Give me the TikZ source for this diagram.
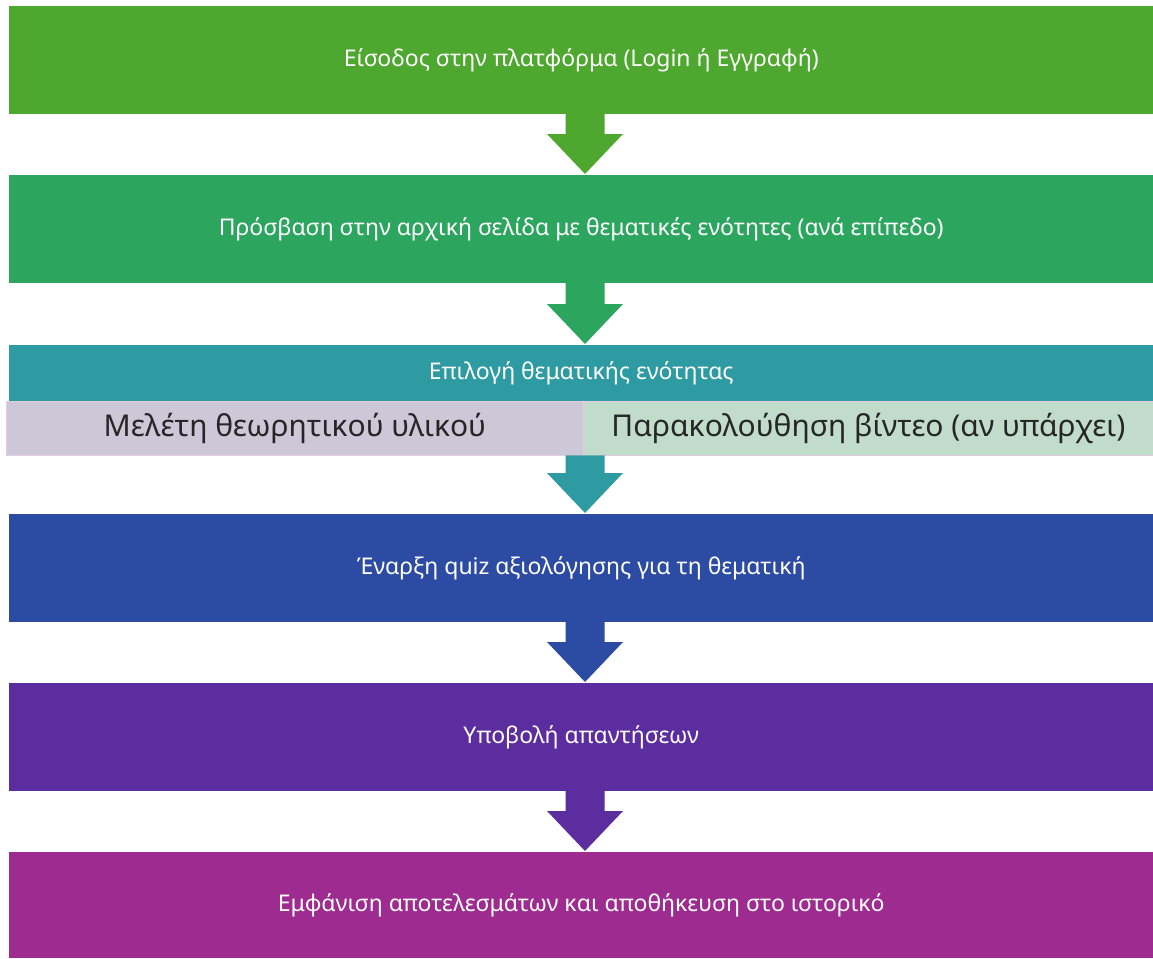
\documentclass[tikz,border=0pt]{standalone}
\usepackage{fontspec}
\setmainfont{Noto Sans}
\usetikzlibrary{calc}
\definecolor{cA}{HTML}{4EA72E}
\definecolor{cB}{HTML}{2CA55E}
\definecolor{cC}{HTML}{2E9AA2}
\definecolor{cL}{HTML}{CDC8D8}
\definecolor{cG}{HTML}{C1DCCB}
\definecolor{cP}{HTML}{E6CCE0}
\definecolor{cD}{HTML}{2C4CA3}
\definecolor{cE}{HTML}{5C2D9F}
\definecolor{cF}{HTML}{9E2B8F}
\tikzset{
  stepbox/.style={rectangle, inner sep=0pt, anchor=north west, minimum width=1144pt,
    minimum height=108pt, text=white, font=\fontsize{23}{27}\selectfont},
  subbox/.style={rectangle, inner sep=0pt, anchor=north west, minimum height=54pt,
    draw=cP, line width=0.8pt, text=black!85, font=\fontsize{30}{34}\selectfont},
}
% from node, to node, colour  (y axis points down)
\newcommand\blockarr[3]{%
  \fill[#3] ($(#1.south -| ax)+(-19.5,-0.5)$) -- ($(#2.north -| ax)+(-19.5,-41)$)
    -- ($(#2.north -| ax)+(-38,-41)$) -- ($(#2.north -| ax)+(0,-1)$)
    -- ($(#2.north -| ax)+(38,-41)$) -- ($(#2.north -| ax)+(19.5,-41)$)
    -- ($(#1.south -| ax)+(19.5,-0.5)$) -- cycle;}
\begin{document}
\begin{tikzpicture}[x=1pt,y=-1pt]
\useasboundingbox (0,0) rectangle (1153,958);
\coordinate (ax) at (585,0);
\node[stepbox, fill=cA] (b1) at (9,6) {Είσοδος στην πλατφόρμα (Login ή Εγγραφή)};
\node[stepbox, fill=cB] (b2) at (9,175) {Πρόσβαση στην αρχική σελίδα με θεματικές ενότητες (ανά επίπεδο)};
\node[stepbox, fill=cC, minimum height=56pt] (b3) at (9,345) {Επιλογή θεματικής ενότητας};
\node[subbox, fill=cL, minimum width=577pt] (s1) at (6,401) {Μελέτη θεωρητικού υλικού};
\node[subbox, fill=cG, minimum width=570pt] (s2) at (583,401) {Παρακολούθηση βίντεο (αν υπάρχει)};
\node[stepbox, fill=cD] (b4) at (9,514) {Έναρξη quiz αξιολόγησης για τη θεματική};
\node[stepbox, fill=cE] (b5) at (9,683) {Υποβολή απαντήσεων};
\node[stepbox, fill=cF, minimum height=106pt] (b6) at (9,852) {Εμφάνιση αποτελεσμάτων και αποθήκευση στο ιστορικό};
\blockarr{b1}{b2}{cA}
\blockarr{b2}{b3}{cB}
\blockarr{s1}{b4}{cC}
\blockarr{b4}{b5}{cD}
\blockarr{b5}{b6}{cE}
\end{tikzpicture}
\end{document}
